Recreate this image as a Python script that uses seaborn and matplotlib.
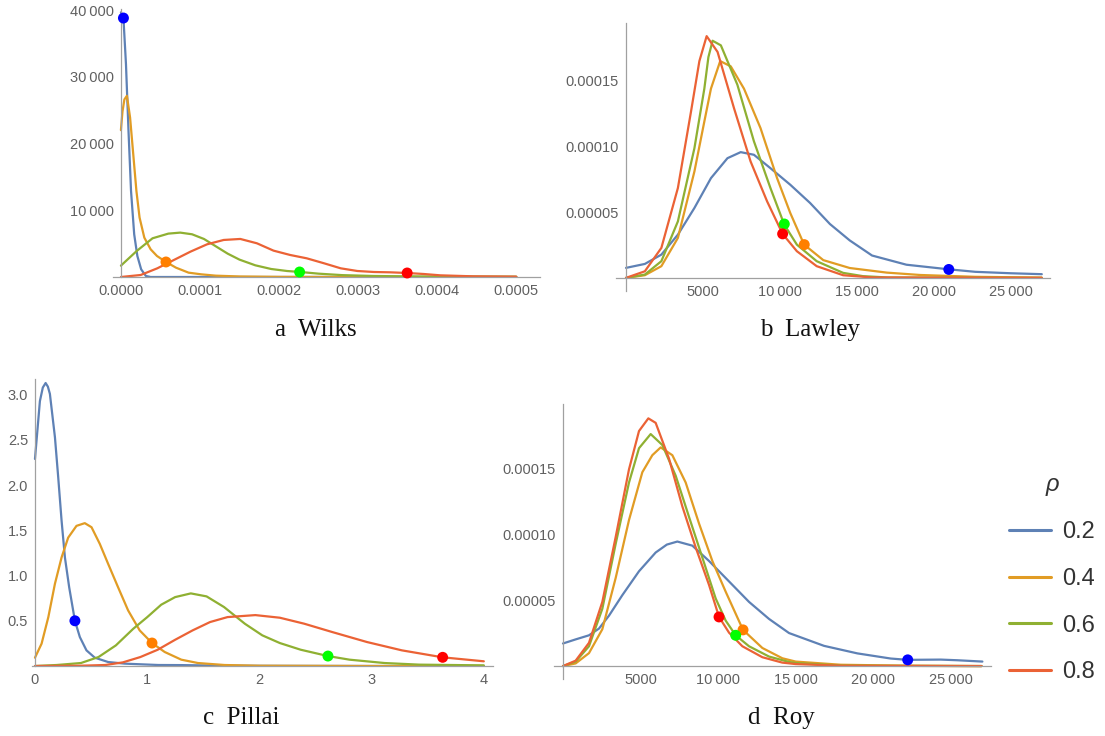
import numpy as np
import pandas as pd
import matplotlib
matplotlib.use('Agg')
import matplotlib.pyplot as plt
import seaborn as sns
from matplotlib.ticker import FixedLocator, FuncFormatter
from matplotlib.lines import Line2D

# ---------------- data ----------------
rho_labels = ['0.2', '0.4', '0.6', '0.8']
line_colors = ['#5E81B5', '#E19C24', '#8FB032', '#EB6235']
dot_colors = ['#0000FF', '#FF7F00', '#00FF00', '#FF0000']

# a Wilks
wilks_x_02 = [0, 3.2e-6, 6.4e-6, 9.6e-6, 12.8e-6, 16.8e-6, 20.8e-6, 25.6e-6, 31.6e-6, 37.6e-6, 60e-6, 150e-6, 300e-6, 500e-6]
wilks_y_02 = [39650, 38800, 31900, 21900, 12900, 6400, 3150, 1150, 150, 0, 0, 0, 0, 0]
wilks_x_04 = [0, 2e-6, 4.4e-6, 7.6e-6, 11.6e-6, 15.6e-6, 19.6e-6, 23.6e-6, 29.6e-6, 37.6e-6, 45.6e-6, 56.4e-6, 69.6e-6, 85.6e-6, 101.6e-6, 120e-6, 150e-6, 200e-6, 300e-6, 500e-6]
wilks_y_04 = [22000, 24800, 26600, 27150, 23900, 18400, 12900, 8900, 5900, 4150, 3150, 2300, 1400, 650, 400, 200, 80, 20, 0, 0]
wilks_x_06 = [0, 2e-5, 4e-5, 6e-5, 7.5e-5, 9e-5, 1.05e-4, 1.2e-4, 1.35e-4, 1.5e-4, 1.7e-4, 1.9e-4, 2.1e-4, 2.27e-4, 2.5e-4, 2.8e-4, 3.2e-4, 3.8e-4, 5e-4]
wilks_y_06 = [1700, 3900, 5800, 6500, 6650, 6400, 5700, 4600, 3500, 2600, 1750, 1200, 900, 750, 500, 280, 150, 80, 40]
wilks_x_08 = [0, 2.5e-5, 4.6e-5, 6.7e-5, 8.8e-5, 1.09e-4, 1.3e-4, 1.51e-4, 1.72e-4, 1.93e-4, 2.14e-4, 2.35e-4, 2.57e-4, 2.78e-4, 2.99e-4, 3.2e-4, 3.41e-4, 3.62e-4, 3.83e-4, 4.04e-4, 4.46e-4, 5e-4]
wilks_y_08 = [0, 300, 1300, 2550, 3800, 4900, 5550, 5700, 5050, 3950, 3300, 2800, 2050, 1300, 900, 750, 700, 600, 450, 250, 100, 50]
wilks_dot_x = [3.2e-6, 5.7e-5, 2.26e-4, 3.62e-4]
wilks_dot_y = [38800, 2250, 750, 600]

# b Lawley
lawley_x_02 = [0, 1223, 2296, 3369, 4442, 5515, 6588, 7446, 8305, 9378, 10665, 11953, 13240, 14528, 15978, 18212, 20961, 22682, 25000, 27000]
lawley_y_02 = [7.6e-6, 1.06e-5, 1.77e-5, 3.29e-5, 5.32e-5, 7.59e-5, 9.11e-5, 9.57e-5, 9.37e-5, 8.35e-5, 7.09e-5, 5.7e-5, 4.1e-5, 2.85e-5, 1.7e-5, 1.0e-5, 6.5e-6, 4.6e-6, 3.5e-6, 2.8e-6]
lawley_x_04 = [0, 1223, 2296, 3369, 4442, 5086, 5515, 6116, 6803, 7661, 8734, 9807, 10665, 11567, 12811, 14528, 16930, 19090, 22682, 27000]
lawley_y_04 = [0, 2e-6, 8.9e-6, 3.04e-5, 8.1e-5, 1.19e-4, 1.44e-4, 1.65e-4, 1.61e-4, 1.44e-4, 1.14e-4, 7.6e-5, 4.94e-5, 2.53e-5, 1.35e-5, 7.5e-6, 4e-6, 2.2e-6, 8e-7, 2e-7]
lawley_x_06 = [0, 1223, 2296, 3369, 4442, 5086, 5350, 5622, 6159, 7232, 8305, 9378, 10279, 11094, 12382, 14099, 15386, 17000, 27000]
lawley_y_06 = [0, 2.5e-6, 1.27e-5, 4.3e-5, 9.87e-5, 1.44e-4, 1.68e-4, 1.805e-4, 1.77e-4, 1.47e-4, 1.04e-4, 6.84e-5, 4.05e-5, 2.53e-5, 1.27e-5, 3.8e-6, 1.3e-6, 3e-7, 0]
lawley_x_08 = [0, 1223, 2296, 3369, 4227, 4764, 5236, 5944, 7017, 8090, 9163, 10172, 11094, 12382, 14099, 16000, 27000]
lawley_y_08 = [0, 5e-6, 2.28e-5, 6.84e-5, 1.27e-4, 1.65e-4, 1.84e-4, 1.72e-4, 1.29e-4, 8.86e-5, 5.82e-5, 3.34e-5, 2.03e-5, 8.9e-6, 2e-6, 3e-7, 0]
lawley_dot_x = [20961, 11575, 10279, 10170]
lawley_dot_y = [6.4e-6, 2.53e-5, 4.1e-5, 3.35e-5]

# c Pillai
pillai_x_02 = [0, 0.044, 0.07, 0.095, 0.115, 0.133, 0.178, 0.207, 0.237, 0.267, 0.305, 0.356, 0.40, 0.459, 0.533, 0.652, 0.8, 1.1, 1.3, 1.6, 2.0, 3.0, 4.0]
pillai_y_02 = [2.29, 2.93, 3.08, 3.13, 3.09, 3.01, 2.53, 2.09, 1.61, 1.20, 0.87, 0.50, 0.32, 0.173, 0.092, 0.044, 0.026, 0.011, 0.01, 0.005, 0.002, 0, 0]
pillai_x_04 = [0, 0.059, 0.119, 0.178, 0.237, 0.296, 0.370, 0.444, 0.504, 0.578, 0.652, 0.741, 0.830, 0.933, 1.043, 1.156, 1.304, 1.452, 1.689, 2.0, 3.0, 4.0]
pillai_y_04 = [0.092, 0.247, 0.54, 0.91, 1.20, 1.42, 1.55, 1.58, 1.535, 1.35, 1.13, 0.87, 0.615, 0.394, 0.254, 0.155, 0.07, 0.033, 0.011, 0.003, 0, 0]
pillai_x_06 = [0, 0.193, 0.41, 0.566, 0.721, 0.876, 1.0, 1.125, 1.249, 1.389, 1.529, 1.685, 1.871, 2.026, 2.182, 2.368, 2.611, 2.803, 3.114, 3.425, 4.0]
pillai_y_06 = [0, 0.011, 0.033, 0.099, 0.228, 0.412, 0.54, 0.678, 0.762, 0.803, 0.77, 0.652, 0.467, 0.339, 0.254, 0.18, 0.11, 0.07, 0.033, 0.015, 0.007]
pillai_x_08 = [0, 0.4, 0.628, 0.783, 0.939, 1.094, 1.249, 1.405, 1.560, 1.716, 1.964, 2.182, 2.399, 2.648, 2.959, 3.27, 3.633, 4.0]
pillai_y_08 = [0, 0.003, 0.011, 0.04, 0.099, 0.18, 0.29, 0.394, 0.486, 0.541, 0.563, 0.534, 0.468, 0.376, 0.265, 0.173, 0.096, 0.052]
pillai_dot_x = [0.356, 1.043, 2.611, 3.633]
pillai_dot_y = [0.50, 0.254, 0.11, 0.096]

# d Roy
roy_x_02 = [0, 817, 1677, 2323, 2968, 3828, 4903, 5978, 6700, 7376, 8344, 9419, 10710, 12000, 13290, 14581, 16839, 18989, 21140, 22237, 24366, 25441, 27054]
roy_y_02 = [1.71e-5, 2.02e-5, 2.33e-5, 2.84e-5, 3.82e-5, 5.37e-5, 7.18e-5, 8.6e-5, 9.2e-5, 9.43e-5, 9.12e-5, 7.96e-5, 6.41e-5, 4.86e-5, 3.57e-5, 2.5e-5, 1.53e-5, 9.6e-6, 5.7e-6, 4.7e-6, 4.9e-6, 4.4e-6, 3.4e-6]
roy_x_04 = [0, 817, 1677, 2538, 3398, 4258, 5118, 5763, 6301, 7054, 7914, 8774, 9634, 10495, 11613, 12860, 14150, 15011, 17914, 22215, 27000]
roy_y_04 = [0, 2e-6, 9.8e-6, 2.79e-5, 6.67e-5, 1.106e-4, 1.468e-4, 1.597e-4, 1.656e-4, 1.597e-4, 1.39e-4, 1.08e-4, 7.96e-5, 5.63e-5, 2.74e-5, 1.37e-5, 5.9e-6, 3.4e-6, 1e-6, 2.6e-7, 0]
roy_x_06 = [0, 817, 1677, 2538, 3398, 4258, 4903, 5656, 6409, 7269, 8129, 8989, 9849, 10495, 11140, 12000, 13290, 14581, 15011, 18000, 27000]
roy_y_06 = [0, 3.4e-6, 1.5e-5, 4.34e-5, 9.25e-5, 1.39e-4, 1.65e-4, 1.757e-4, 1.674e-4, 1.442e-4, 1.13e-4, 8.22e-5, 5.12e-5, 3.44e-5, 2.33e-5, 1.5e-5, 7.2e-6, 3.1e-6, 2.3e-6, 3e-7, 0]
roy_x_08 = [0, 817, 1677, 2538, 3398, 4258, 4903, 5505, 5978, 6839, 7699, 8559, 9419, 10065, 10710, 11570, 12860, 14150, 15011, 18000, 27000]
roy_y_08 = [0, 4.1e-6, 1.76e-5, 4.86e-5, 9.77e-5, 1.49e-4, 1.78e-4, 1.876e-4, 1.842e-4, 1.571e-4, 1.209e-4, 8.99e-5, 6.15e-5, 3.72e-5, 2.53e-5, 1.5e-5, 6.7e-6, 2.6e-6, 1.5e-6, 2e-7, 0]
roy_dot_x = [22237, 11613, 11140, 10065]
roy_dot_y = [4.7e-6, 2.74e-5, 2.33e-5, 3.72e-5]

panel_titles = ['a  Wilks', 'b  Lawley', 'c  Pillai', 'd  Roy']

# ---------------- styling ----------------
sns.set_style('white')
plt.rcParams['font.family'] = ['Liberation Sans', 'DejaVu Sans']

W, H = 1105, 736
fig = plt.figure(figsize=(W / 100, H / 100), dpi=100)

def box(l, r, t, b):
    return [l / W, 1 - b / H, (r - l) / W, (b - t) / H]

line_pal = dict(zip(rho_labels, line_colors))
dot_pal = dict(zip(rho_labels, dot_colors))

def curves_df(xs, ys):
    frames = []
    for lab, x, y in zip(rho_labels, xs, ys):
        frames.append(pd.DataFrame({'x': x, 'y': y, 'rho': lab}))
    return pd.concat(frames, ignore_index=True)

def group_fmt(v):
    v = int(round(v))
    if v >= 10000:
        return f"{v:,}".replace(',', '\u2009')
    return str(v)

def style_axes(ax, xlim, ylim):
    ax.set_xlim(*xlim)
    ax.set_ylim(*ylim)
    for s in ['top', 'right']:
        ax.spines[s].set_visible(False)
    for s in ['left', 'bottom']:
        ax.spines[s].set_position(('data', 0))
        ax.spines[s].set_color('#a0a0a0')
        ax.spines[s].set_linewidth(0.9)
    ax.tick_params(which='major', direction='in', length=4, width=0.8, color='#a0a0a0',
                   labelcolor='#606060', labelsize=10.5, pad=5)
    ax.tick_params(which='minor', direction='in', length=2.3, width=0.7, color='#a0a0a0')
    ax.set_xlabel('')
    ax.set_ylabel('')
    ax.patch.set_alpha(0)

panels = [
    dict(xs=[wilks_x_02, wilks_x_04, wilks_x_06, wilks_x_08], ys=[wilks_y_02, wilks_y_04, wilks_y_06, wilks_y_08],
         dx=wilks_dot_x, dy=wilks_dot_y, box=box(113, 540, 8.7, 277), xlim=(-1.0e-5, 5.3e-4), ylim=(0, 40200)),
    dict(xs=[lawley_x_02, lawley_x_04, lawley_x_06, lawley_x_08], ys=[lawley_y_02, lawley_y_04, lawley_y_06, lawley_y_08],
         dx=lawley_dot_x, dy=lawley_dot_y, box=box(616, 1049.5, 23, 291), xlim=(-650, 27500), ylim=(-1.0e-5, 1.94e-4)),
    dict(xs=[pillai_x_02, pillai_x_04, pillai_x_06, pillai_x_08], ys=[pillai_y_02, pillai_y_04, pillai_y_06, pillai_y_08],
         dx=pillai_dot_x, dy=pillai_dot_y, box=box(31.6, 492.8, 379.4, 666), xlim=(-0.03, 4.08), ylim=(0, 3.17)),
    dict(xs=[roy_x_02, roy_x_04, roy_x_06, roy_x_08], ys=[roy_y_02, roy_y_04, roy_y_06, roy_y_08],
         dx=roy_dot_x, dy=roy_dot_y, box=box(554, 990.7, 403.7, 679), xlim=(-580, 27590), ylim=(-9.8e-6, 1.987e-4)),
]

axes = []
for p in panels:
    ax = fig.add_axes(p['box'])
    df = curves_df(p['xs'], p['ys'])
    sns.lineplot(data=df, x='x', y='y', hue='rho', hue_order=rho_labels, palette=line_pal,
                 estimator=None, sort=False, linewidth=1.6, legend=False, ax=ax)
    for ln in ax.get_lines():
        ln.set_solid_joinstyle('round')
    ddf = pd.DataFrame({'x': p['dx'], 'y': p['dy'], 'rho': rho_labels})
    sns.scatterplot(data=ddf, x='x', y='y', hue='rho', hue_order=rho_labels, palette=dot_pal,
                    s=62, linewidth=0, legend=False, ax=ax, zorder=5, clip_on=False)
    style_axes(ax, p['xlim'], p['ylim'])
    axes.append(ax)

# panel a ticks
ax = axes[0]
ax.xaxis.set_major_locator(FixedLocator([0, 1e-4, 2e-4, 3e-4, 4e-4, 5e-4]))
ax.xaxis.set_major_formatter(FuncFormatter(lambda v, p: f"{v:.4f}"))
ax.xaxis.set_minor_locator(FixedLocator(np.arange(0, 5.01e-4, 2e-5)))
ax.yaxis.set_major_locator(FixedLocator([10000, 20000, 30000, 40000]))
ax.yaxis.set_major_formatter(FuncFormatter(lambda v, p: group_fmt(v)))
ax.yaxis.set_minor_locator(FixedLocator(np.arange(0, 40001, 2000)))

# panels b and d ticks
for ax in (axes[1], axes[3]):
    ax.xaxis.set_major_locator(FixedLocator([5000, 10000, 15000, 20000, 25000]))
    ax.xaxis.set_major_formatter(FuncFormatter(lambda v, p: group_fmt(v)))
    ax.xaxis.set_minor_locator(FixedLocator(np.arange(0, 27001, 1000)))
    ax.yaxis.set_major_locator(FixedLocator([5e-5, 1e-4, 1.5e-4]))
    ax.yaxis.set_major_formatter(FuncFormatter(lambda v, p: f"{v:.5f}"))
    ax.yaxis.set_minor_locator(FixedLocator(np.arange(0, 1.91e-4, 1e-5)))

# panel c ticks
ax = axes[2]
ax.xaxis.set_major_locator(FixedLocator([0, 1, 2, 3, 4]))
ax.xaxis.set_major_formatter(FuncFormatter(lambda v, p: f"{int(round(v))}"))
ax.xaxis.set_minor_locator(FixedLocator(np.arange(0, 4.01, 0.2)))
ax.yaxis.set_major_locator(FixedLocator([0.5, 1.0, 1.5, 2.0, 2.5, 3.0]))
ax.yaxis.set_major_formatter(FuncFormatter(lambda v, p: f"{v:.1f}"))
ax.yaxis.set_minor_locator(FixedLocator(np.arange(0, 3.11, 0.1)))

# captions
cap_pos = [(316, 330), (810, 330), (241, 718), (781, 718)]
for (cx, cy), t in zip(cap_pos, panel_titles):
    fig.text(cx / W, 1 - cy / H, t, ha='center', va='center',
             family=['Liberation Serif', 'DejaVu Serif'], fontsize=18, color='#111111')

# legend
handles = [Line2D([0], [0], color=c, lw=2.2) for c in line_colors]
leg = fig.legend(handles, rho_labels, title='ρ', loc='upper left',
                 bbox_to_anchor=(988 / W, 1 - 452 / H), frameon=False,
                 fontsize=17, title_fontsize=17, handlelength=1.75,
                 handletextpad=0.5, labelspacing=1.05, borderpad=0.4)
leg.get_title().set_fontstyle('italic')
leg.get_title().set_color('#333333')
for txt in leg.get_texts():
    txt.set_color('#333333')

fig.savefig('out.png', dpi=100)
